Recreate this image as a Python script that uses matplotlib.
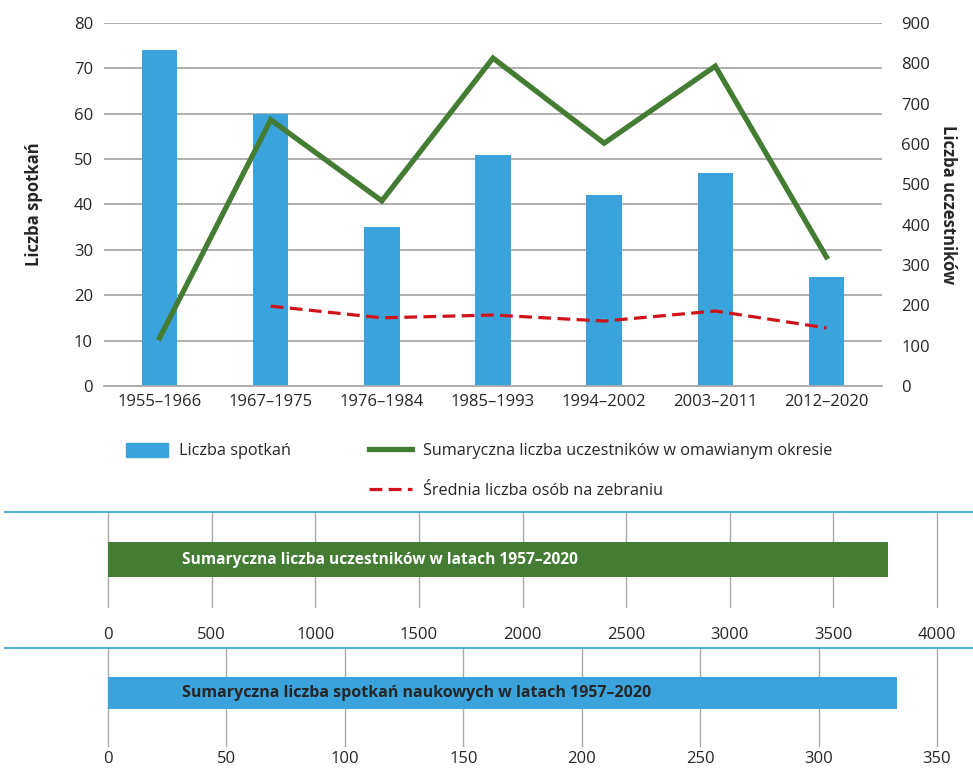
import numpy as np
import matplotlib
matplotlib.use("Agg")
import matplotlib.pyplot as plt
from matplotlib.patches import Patch

plt.rcParams['font.family'] = ['Open Sans', 'DejaVu Sans']

# data
periods = ["1955–1966", "1967–1975", "1976–1984", "1985–1993",
           "1994–2002", "2003–2011", "2012–2020"]
meetings = [74, 60, 35, 51, 42, 47, 24]
participants = [119, 660, 459, 813, 602, 793, 320]
avg_per_meeting = [np.nan, 198, 169, 176, 161, 186, 144]

total_participants = 3764
total_meetings = 333

blue = "#3ba3dc"
green = "#437c32"
red = "#d0121b"
grid_c = "#a9a9a9"
txt_c = "#262626"

fig = plt.figure(figsize=(9.73, 7.68), dpi=100)
W, H = 973, 768

def px_axes(x0, y0, x1, y1):
    return fig.add_axes([x0 / W, 1 - y1 / H, (x1 - x0) / W, (y1 - y0) / H])

# ---- top combo chart ----
ax = px_axes(104, 23, 882, 386)
x = np.arange(len(periods))
ax.bar(x, meetings, width=0.32, color=blue, zorder=2)
ax.set_xlim(-0.5, len(periods) - 0.5)
ax.set_ylim(0, 80)
ax.set_yticks(np.arange(0, 81, 10))
ax.set_xticks(x)
ax.set_xticklabels(periods)
ax.yaxis.grid(True, color=grid_c, lw=1.3, zorder=0)
ax.set_axisbelow(True)
for s in ["top", "right", "left"]:
    ax.spines[s].set_visible(False)
ax.spines["bottom"].set_color(grid_c)
ax.spines["bottom"].set_linewidth(1.3)
ax.tick_params(length=0, labelsize=12, colors=txt_c, pad=8)
ax.tick_params(axis="x", pad=6)
ax.set_ylabel("Liczba spotkań", fontsize=12, fontweight="bold", color=txt_c, labelpad=22)

ax2 = ax.twinx()
ax2.set_ylim(0, 900)
ax2.set_yticks(np.arange(0, 901, 100))
for s in ax2.spines.values():
    s.set_visible(False)
ax2.tick_params(length=0, labelsize=12, colors=txt_c, pad=14)
g_line, = ax2.plot(x, participants, color=green, lw=3.8, solid_joinstyle="miter", zorder=3)
r_line, = ax2.plot(x, avg_per_meeting, color=red, lw=2.3, dashes=(4, 2), zorder=3)
ax2.set_ylabel("Liczba uczestników", fontsize=12, fontweight="bold", color=txt_c,
               rotation=-90, labelpad=19)

blank = Patch(color="none")
fig.legend([Patch(color=blue), blank, g_line, r_line],
           ["Liczba spotkań", "", "Sumaryczna liczba uczestników w omawianym okresie",
            "Średnia liczba osób na zebraniu"],
           ncol=2, loc="upper left", bbox_to_anchor=(111 / W, 1 - 428 / H),
           frameon=False, fontsize=11.7, handlelength=2.6, handleheight=1.0,
           handletextpad=0.7, columnspacing=4.8, labelspacing=1.4, labelcolor=txt_c)

# ---- bottom bars ----
def total_panel(y0, y1, value, vmax, step, label, color, label_color, bar_y, bar_h, pad, fs):
    scale = (937 - 108) / vmax
    axb = px_axes(5, y0, 973, y1)
    axb.set_xlim(-(108 - 5) / scale, vmax + (973 - 937) / scale)
    axb.set_ylim(0, 1)
    axb.barh([bar_y], [value], height=bar_h, color=color, zorder=2)
    axb.set_xticks(np.arange(0, vmax + 1, step))
    axb.set_yticks([])
    axb.xaxis.grid(True, color=grid_c, lw=1.0, zorder=0)
    axb.set_axisbelow(True)
    for s in ["left", "right", "bottom"]:
        axb.spines[s].set_visible(False)
    axb.spines["top"].set_color(blue)
    axb.spines["top"].set_linewidth(1.3)
    axb.tick_params(length=0, labelsize=12, colors=txt_c, pad=pad)
    axb.text(vmax * 0.0895, bar_y, label, color=label_color, fontsize=fs,
             fontweight="bold", va="center", ha="left", zorder=3)

total_panel(512, 608, total_participants, 4000, 500,
            "Sumaryczna liczba uczestników w latach 1957–2020", green, "white",
            0.505, 0.365, 14, 11.2)
total_panel(648, 747, total_meetings, 350, 50,
            "Sumaryczna liczba spotkań naukowych w latach 1957–2020", blue, txt_c,
            0.545, 0.32, 3, 11.5)

fig.savefig("out.png", dpi=100)
